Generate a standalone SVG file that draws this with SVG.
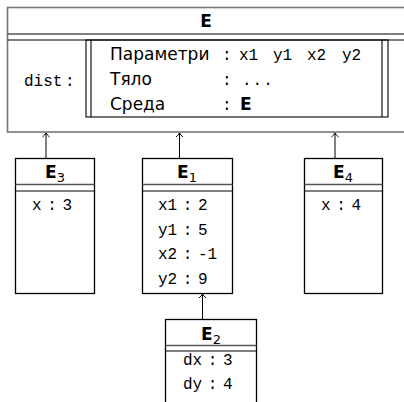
<svg xmlns="http://www.w3.org/2000/svg" width="404" height="402" viewBox="0 0 404 402">
<defs>
<marker id="arr" markerWidth="10" markerHeight="10" refX="9" refY="5" orient="auto" markerUnits="userSpaceOnUse" viewBox="0 0 10 10">
<path d="M5,1.5 Q7,4 9,5 Q7,6 5,8.5" fill="none" stroke="#000" stroke-width="1"/>
</marker>
<style>
.box{fill:#fff;stroke:#000;stroke-width:1.3}
.outer{fill:#fff;stroke:#777;stroke-width:1.6}
.hl1{stroke:#555;stroke-width:1.6}
.hl2{stroke:#000;stroke-width:1.1}
.ttl{font-family:"DejaVu Sans","Liberation Sans",sans-serif;font-weight:bold;font-size:17px;fill:#000}
.sub{font-weight:normal;font-size:13px}
.mono{font-family:"Liberation Mono","DejaVu Sans Mono",monospace;font-size:16px;fill:#000;word-spacing:-4px}
.sans{font-family:"DejaVu Sans","Liberation Sans",sans-serif;font-size:17px;fill:#000}
.conn{stroke:#000;stroke-width:1;fill:none}
</style>
</defs>

<g id="E">
<rect class="outer" x="7.5" y="7.5" width="400" height="124.5"/>
<line class="hl1" x1="7.5" y1="34" x2="405" y2="34"/>
<line class="hl2" x1="7.5" y1="40" x2="405" y2="40"/>
<text class="ttl" x="206" y="27" text-anchor="middle">E</text>
<text class="mono" x="24" y="86">dist</text>
<text class="mono" x="65" y="86">:</text>
<rect x="86" y="40" width="302" height="77" fill="none" stroke="#000" stroke-width="1.1"/>
<line x1="91" y1="40" x2="91" y2="117" stroke="#000" stroke-width="1.1"/>
<line x1="382" y1="40" x2="382" y2="117" stroke="#000" stroke-width="1.1"/>
<text class="sans" x="110" y="60">Параметри</text>
<text class="sans" x="110" y="85">Тяло</text>
<text class="sans" x="110" y="110">Среда</text>
<text class="mono" x="222" y="60">:</text>
<text class="mono" x="222" y="85">:</text>
<text class="mono" x="222" y="110">:</text>
<text class="mono" y="60"><tspan x="239">x1</tspan><tspan x="273">y1</tspan><tspan x="307">x2</tspan><tspan x="342">y2</tspan></text>
<text class="mono" x="242" y="85" letter-spacing="1">...</text>
<text class="ttl" x="240" y="110">E</text>
</g>

<g id="E3">
<rect class="box" x="15.5" y="158.5" width="79" height="135"/>
<line class="hl1" x1="15.5" y1="184.5" x2="94.5" y2="184.5"/>
<line class="hl2" x1="15.5" y1="191" x2="94.5" y2="191"/>
<text class="ttl" x="55" y="178" text-anchor="middle">E<tspan class="sub" dy="4">3</tspan></text>
<text class="mono" x="32" y="210">x : 3</text>
</g>

<g id="E1">
<rect class="box" x="142.5" y="158.5" width="90" height="135"/>
<line class="hl1" x1="142.5" y1="184.5" x2="232.5" y2="184.5"/>
<line class="hl2" x1="142.5" y1="191" x2="232.5" y2="191"/>
<text class="ttl" x="187" y="178" text-anchor="middle">E<tspan class="sub" dy="4">1</tspan></text>
<text class="mono" x="158" y="210">x1 : 2</text>
<text class="mono" x="158" y="235">y1 : 5</text>
<text class="mono" x="158" y="259">x2 : -1</text>
<text class="mono" x="158" y="284">y2 : 9</text>
</g>

<g id="E4">
<rect class="box" x="304.5" y="158.5" width="78" height="135"/>
<line class="hl1" x1="304.5" y1="184.5" x2="382.5" y2="184.5"/>
<line class="hl2" x1="304.5" y1="191" x2="382.5" y2="191"/>
<text class="ttl" x="343" y="178" text-anchor="middle">E<tspan class="sub" dy="4">4</tspan></text>
<text class="mono" x="321" y="210">x : 4</text>
</g>

<g id="E2">
<rect class="box" x="165.5" y="319.5" width="91" height="100"/>
<line class="hl1" x1="165.5" y1="345.5" x2="256.5" y2="345.5"/>
<line class="hl2" x1="165.5" y1="351" x2="256.5" y2="351"/>
<text class="ttl" x="211" y="340" text-anchor="middle">E<tspan class="sub" dy="4">2</tspan></text>
<text class="mono" x="183" y="365">dx : 3</text>
<text class="mono" x="183" y="389">dy : 4</text>
</g>

<g id="connectors">
<line class="conn" x1="46" y1="158" x2="46" y2="133" marker-end="url(#arr)"/>
<line class="conn" x1="179.5" y1="158" x2="179.5" y2="133" marker-end="url(#arr)"/>
<line class="conn" x1="335" y1="158" x2="335" y2="133" marker-end="url(#arr)"/>
<line class="conn" x1="202.5" y1="319" x2="202.5" y2="294" marker-end="url(#arr)"/>
</g>
</svg>
